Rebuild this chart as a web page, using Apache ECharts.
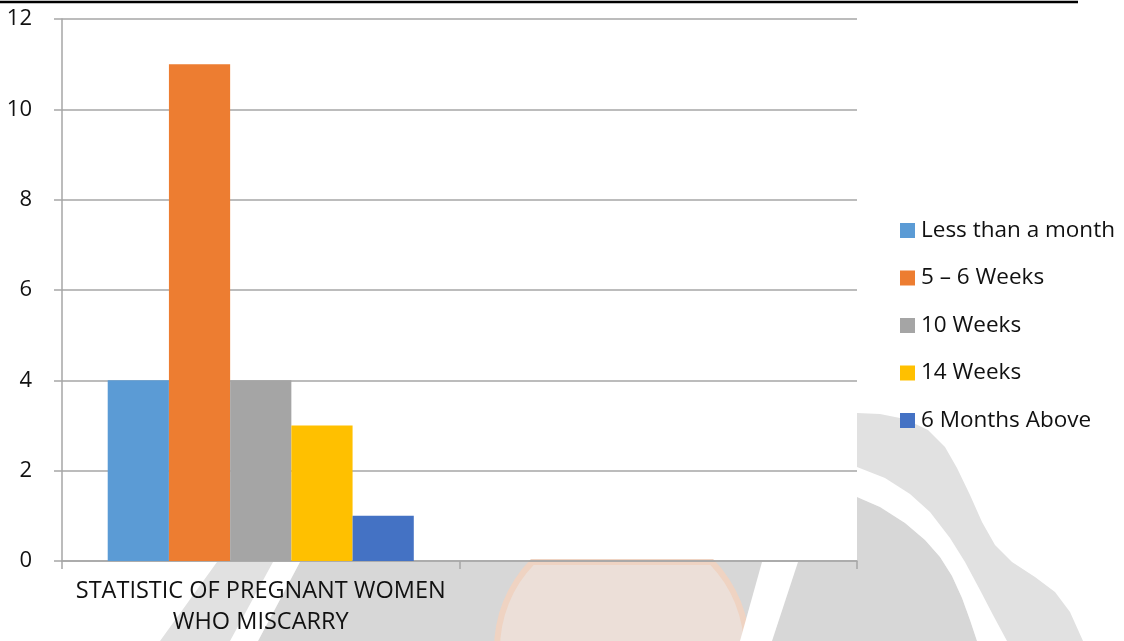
<!DOCTYPE html>
<html>
<head>
<meta charset="utf-8">
<title>Statistic of pregnant women who miscarry</title>
<script src="https://cdn.jsdelivr.net/npm/echarts@6/dist/echarts.min.js"></script>
<style>
  html, body { margin: 0; padding: 0; background: #fff; }
  #chart { width: 1124px; height: 641px; }
</style>
</head>
<body>
<div id="chart"></div>
<script>
// Categories on the x axis (the second slot is left empty)
const categories = ['STATISTIC OF PREGNANT WOMEN\nWHO MISCARRY', ''];

// Series names and their single value each
const seriesNames = ['Less than a month', '5 – 6 Weeks', '10 Weeks', '14 Weeks', '6 Months Above'];
const lessThanMonth = [4, null];
const fiveToSixWeeks = [11, null];
const tenWeeks = [4, null];
const fourteenWeeks = [3, null];
const sixMonthsAbove = [1, null];
const seriesValues = [lessThanMonth, fiveToSixWeeks, tenWeeks, fourteenWeeks, sixMonthsAbove];

// Y axis ticks
const yMin = 0, yMax = 12, yStep = 2;

const colors = ['#5b9bd5', '#ed7d31', '#a5a5a5', '#ffc000', '#4472c4'];
const fontFamily = '"Open Sans", "Noto Sans", sans-serif';
const axisGrey = '#a6a6a6';

const chart = echarts.init(document.getElementById('chart'), null, { renderer: 'canvas' });

// Lower part of a disc, cut flat at the line y = cutY (used for the faded emblem)
function discBelow(cx, cy, r, cutY) {
  const pts = [];
  const a0 = Math.asin((cutY - cy) / r);
  const steps = 48;
  for (let k = 0; k <= steps; k++) {
    const a = (Math.PI - a0) - (Math.PI - 2 * a0) * (1 - k / steps);
    pts.push([cx + r * Math.cos(a), cy + r * Math.sin(a)]);
  }
  return pts.filter(p => p[1] >= cutY - 0.5);
}

// Page decoration behind the chart: rule at the top and the faded emblem
const decoration = [
  { type: 'line', shape: { x1: 0, y1: 2, x2: 1078, y2: 2 }, style: { stroke: '#000', lineWidth: 2.5 }, z: -5, silent: true },
  { type: 'polygon', shape: { points: [[160,641],[217,562],[857,562],[857,413],[880,414],[905,419],[928,430],[945,447],[957,468],[970,495],[982,522],[995,545],[1012,562],[1035,577],[1055,592],[1070,612],[1083,641]] },
    style: { fill: '#e1e1e1' }, z: -5, silent: true },
  { type: 'polygon', shape: { points: [[300,562],[857,562],[857,497],[880,507],[905,523],[925,540],[940,557],[952,576],[962,598],[970,620],[977,641],[258,641]] },
    style: { fill: '#d7d7d7' }, z: -4, silent: true },
  { type: 'polygon', shape: { points: discBelow(622, 649, 125, 562) },
    style: { fill: '#ecdfd8', stroke: '#efd3c2', lineWidth: 6 }, z: -3, silent: true },
  { type: 'polygon', shape: { points: [[857,467],[885,478],[910,494],[930,512],[950,538],[965,562],[980,590],[993,615],[1007,641],[977,641],[970,620],[962,598],[952,576],[940,557],[925,540],[905,523],[880,507],[857,497]] },
    style: { fill: '#ffffff' }, z: -2, silent: true },
  { type: 'polygon', shape: { points: [[762,562],[798,562],[772,641],[740,641]] },
    style: { fill: '#ffffff' }, z: -2, silent: true },
  { type: 'polygon', shape: { points: [[273,562],[300,562],[258,641],[230,641]] },
    style: { fill: '#ffffff' }, z: -2, silent: true }
];

const option = {
  animation: false,
  backgroundColor: 'transparent',
  color: colors,
  textStyle: { fontFamily: fontFamily },
  graphic: { elements: decoration },
  grid: { left: 62, right: 267, top: 19, bottom: 80, containLabel: false },
  legend: {
    orient: 'vertical',
    left: 900,
    top: 219,
    padding: 0,
    itemWidth: 15,
    itemHeight: 15,
    itemGap: 24.5,
    icon: 'rect',
    selectedMode: false,
    textStyle: { fontFamily: fontFamily, fontSize: 22.5, color: '#111', lineHeight: 21, padding: [0, 0, 0, 1] },
    data: seriesNames
  },
  xAxis: {
    type: 'category',
    data: categories,
    boundaryGap: true,
    axisLine: { show: true, lineStyle: { color: axisGrey, width: 1.5 } },
    axisTick: { show: true, length: 8, lineStyle: { color: axisGrey, width: 1.5 } },
    axisLabel: { fontFamily: fontFamily, fontSize: 23.5, color: '#111', lineHeight: 31, margin: 15, interval: 0 },
    splitLine: { show: false }
  },
  yAxis: {
    type: 'value',
    min: yMin,
    max: yMax,
    interval: yStep,
    axisLine: { show: true, lineStyle: { color: axisGrey, width: 1.5 } },
    axisTick: { show: true, length: 8, lineStyle: { color: axisGrey, width: 1.5 } },
    axisLabel: { fontFamily: fontFamily, fontSize: 22, color: '#111', margin: 30 },
    splitLine: { show: true, lineStyle: { color: axisGrey, width: 1.5 } }
  },
  series: seriesNames.map((name, i) => ({
    name: name,
    type: 'bar',
    data: seriesValues[i],
    barGap: '0%',
    barCategoryGap: '23%',
    itemStyle: { color: colors[i] },
    emphasis: { disabled: true }
  }))
};

chart.setOption(option);
</script>
</body>
</html>
